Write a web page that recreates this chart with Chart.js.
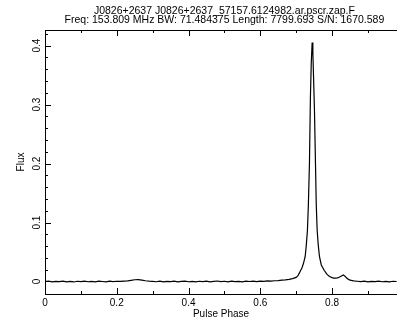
<!DOCTYPE html>
<html>
<head>
<meta charset="utf-8">
<script src="https://cdn.jsdelivr.net/npm/chart.js@4.4.0/dist/chart.umd.min.js"></script>
<style>
  html, body { margin: 0; padding: 0; background: #fff; }
</style>
</head>
<body>
<canvas id="profileChart" width="397" height="325"></canvas>
<script>
// pulse profile
const titleLines = [
    'J0826+2637 J0826+2637_57157.6124982.ar.pscr.zap.F',
    'Freq: 153.809 MHz BW: 71.484375 Length: 7799.693 S/N: 1670.589'
];

const phase = [
    0.00, 0.01, 0.02, 0.03, 0.04, 0.05, 0.06, 0.07, 0.08, 0.09,
    0.10, 0.11, 0.12, 0.13, 0.14, 0.15, 0.16, 0.17, 0.18, 0.19,
    0.20, 0.21, 0.22, 0.23, 0.24, 0.25, 0.26, 0.27, 0.28, 0.29,
    0.30, 0.31, 0.32, 0.33, 0.34, 0.35, 0.36, 0.37, 0.38, 0.39,
    0.40, 0.41, 0.42, 0.43, 0.44, 0.45, 0.46, 0.47, 0.48, 0.49,
    0.50, 0.51, 0.52, 0.53, 0.54, 0.55, 0.56, 0.57, 0.58, 0.59,
    0.60, 0.61, 0.62, 0.63, 0.64, 0.65, 0.66, 0.67, 0.68, 0.69,
    0.700, 0.705, 0.711, 0.716, 0.720, 0.725, 0.728, 0.7314, 0.734, 0.737,
    0.7397, 0.742, 0.7445, 0.7465, 0.7485, 0.7510, 0.7538, 0.7560, 0.7585, 0.7615,
    0.7650, 0.770, 0.778, 0.786, 0.793, 0.800, 0.805, 0.810, 0.815, 0.820,
    0.826, 0.8315, 0.836, 0.840, 0.845, 0.850, 0.86, 0.87, 0.88, 0.89,
    0.90, 0.91, 0.92, 0.93, 0.94, 0.95, 0.96, 0.97, 0.98
];

const flux = [
    0.0000, 0.0005, -0.0006, 0.0003, -0.0002, 0.0007, -0.0005, 0.0001, -0.0008, 0.0004,
    -0.0003, 0.0006, -0.0004, 0.0002, -0.0007, 0.0005, 0.0000, -0.0005, 0.0006, -0.0002,
    0.0004, 0.0002, 0.0007, 0.0011, 0.0020, 0.0030, 0.0032, 0.0024, 0.0013, 0.0006,
    0.0002, -0.0004, 0.0005, -0.0006, 0.0002, -0.0003, 0.0006, -0.0005, 0.0001, 0.0007,
    -0.0004, 0.0003, -0.0007, 0.0004, -0.0002, 0.0005, -0.0006, 0.0002, 0.0008, -0.0003,
    0.0004, -0.0005, 0.0006, -0.0001, 0.0003, -0.0006, 0.0005, 0.0000, 0.0007, -0.0003,
    0.0006, 0.0002, 0.0009, 0.0006, 0.0013, 0.0016, 0.0022, 0.0028, 0.0037, 0.0048,
    0.0070, 0.0100, 0.0170, 0.0230, 0.0300, 0.0420, 0.0600, 0.0870, 0.1300, 0.2000,
    0.3130, 0.3690, 0.4050, 0.3880, 0.3450, 0.2900, 0.2000, 0.1300, 0.0870, 0.0620,
    0.0420, 0.0280, 0.0190, 0.0120, 0.0085, 0.0065, 0.0058, 0.0056, 0.0062, 0.0072,
    0.0092, 0.0112, 0.0090, 0.0062, 0.0040, 0.0022, 0.0012, 0.0004, -0.0003, 0.0005,
    -0.0005, 0.0003, -0.0002, 0.0006, -0.0004, 0.0002, -0.0006, 0.0004, 0.0000
];

const xTicks = [0, 0.2, 0.4, 0.6, 0.8];
const xMinor = [0.1, 0.3, 0.5, 0.7, 0.9];
const yTicks = [0, 0.1, 0.2, 0.3, 0.4];
const yMinor = [0.02, 0.04, 0.06, 0.08, 0.12, 0.14, 0.16, 0.18, 0.22, 0.24,
                0.26, 0.28, 0.32, 0.34, 0.36, 0.38, 0.42];

const pgFamily = '"Liberation Sans", Arial, sans-serif';
const pgFont = { family: pgFamily, size: 10 };

// title and frame are drawn the pgplot way: centred over the viewport, ticks pointing inward
const pgFrame = {
    id: 'pgFrame',
    afterDraw(chart) {
        const ctx = chart.ctx;
        const area = chart.chartArea;
        const xs = chart.scales.x;
        const ys = chart.scales.y;
        ctx.save();
        ctx.strokeStyle = '#000';
        ctx.lineWidth = 1;
        ctx.beginPath();
        ctx.moveTo(area.left + 0.5, area.top + 0.5);
        ctx.lineTo(area.left + 0.5, area.bottom + 0.5);
        ctx.moveTo(area.left, area.top + 0.5);
        ctx.lineTo(area.right, area.top + 0.5);
        ctx.moveTo(area.left, area.bottom + 0.5);
        ctx.lineTo(area.right, area.bottom + 0.5);
        const xTick = (v, len) => {
            const px = Math.round(xs.getPixelForValue(v)) + 0.5;
            ctx.moveTo(px, area.bottom);
            ctx.lineTo(px, area.bottom - len);
            ctx.moveTo(px, area.top);
            ctx.lineTo(px, area.top + len);
        };
        const yTick = (v, len) => {
            const py = Math.round(ys.getPixelForValue(v)) + 0.5;
            ctx.moveTo(area.left, py);
            ctx.lineTo(area.left + len, py);
        };
        xTicks.forEach(v => xTick(v, 6));
        xMinor.forEach(v => xTick(v, 3));
        yTicks.forEach(v => yTick(v, 6));
        yMinor.forEach(v => yTick(v, 3));
        ctx.stroke();

        ctx.fillStyle = '#000';
        ctx.font = '10.5px ' + pgFamily;
        ctx.textAlign = 'center';
        ctx.textBaseline = 'middle';
        const cx = (area.left + xs.getPixelForValue(1.0)) / 2;
        ctx.fillText(titleLines[0], cx, 11);
        ctx.fillText(titleLines[1], cx, 20);
        ctx.restore();
    }
};

const points = phase.map((p, i) => ({ x: p, y: flux[i] }));

const profileChart = new Chart(document.getElementById('profileChart').getContext('2d'), {
    type: 'line',
    data: {
        datasets: [{
            data: points,
            borderColor: '#000',
            borderWidth: 1.2,
            pointRadius: 0,
            tension: 0,
            fill: false
        }]
    },
    options: {
        responsive: false,
        animation: false,
        devicePixelRatio: 1,
        layout: { padding: { top: 30, left: 0, right: 0, bottom: 0 } },
        plugins: {
            legend: { display: false },
            tooltip: { enabled: false }
        },
        scales: {
            x: {
                type: 'linear',
                min: 0,
                max: 0.981,
                afterBuildTicks: s => { s.ticks = xTicks.map(v => ({ value: v })); },
                afterFit: s => { s.height = 31; },
                grid: { display: false, drawTicks: false },
                border: { display: false },
                ticks: {
                    font: pgFont,
                    color: '#000',
                    padding: 3,
                    maxRotation: 0,
                    callback: v => String(v)
                },
                title: {
                    display: true,
                    text: 'Pulse Phase',
                    font: pgFont,
                    color: '#000',
                    padding: { top: 0, bottom: 5 }
                }
            },
            y: {
                type: 'linear',
                min: -0.0212,
                max: 0.4264,
                afterBuildTicks: s => { s.ticks = yTicks.map(v => ({ value: v })); },
                afterFit: s => { s.width = 45; },
                grid: { display: false, drawTicks: false },
                border: { display: false },
                ticks: {
                    font: pgFont,
                    color: '#000',
                    padding: 1,
                    minRotation: 90,
                    maxRotation: 90,
                    crossAlign: 'center',
                    callback: v => String(v)
                },
                title: {
                    display: true,
                    text: 'Flux',
                    font: pgFont,
                    color: '#000',
                    padding: { top: 15, bottom: 0 }
                }
            }
        }
    },
    plugins: [pgFrame]
});
</script>
</body>
</html>
